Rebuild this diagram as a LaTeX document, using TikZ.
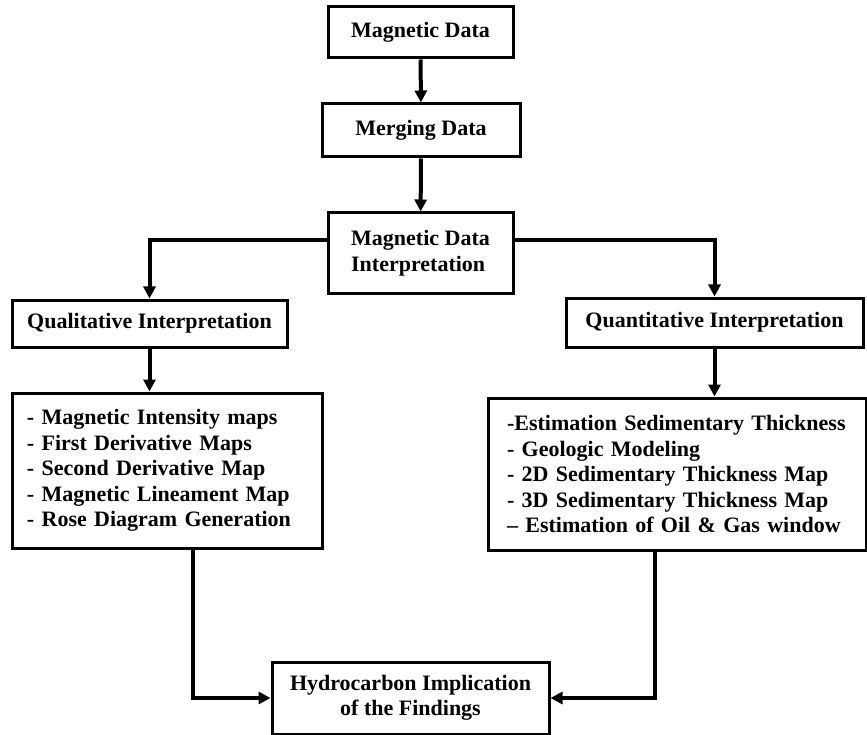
\documentclass[tikz,border=0pt]{standalone}
\usepackage{fontspec}
\setmainfont{Liberation Serif}
\usetikzlibrary{arrows.meta}

\begin{document}
\begin{tikzpicture}[x=1pt, y=-1pt,
    box/.style={draw, line width=3pt, inner sep=0pt,
        font=\fontsize{22}{25.5}\selectfont\bfseries},
    listbox/.style={box, align=left},
    link/.style={line width=4pt, -{Triangle[length=12pt,width=12pt]}}]

    \useasboundingbox (0,0) rectangle (867,735);

    % Data preparation
    \node[box, minimum width=185pt, minimum height=51pt] (magdata) at (420.5,32.5) {Magnetic Data};
    \node[box, minimum width=198pt, minimum height=53pt] (merging) at (421,130.5) {Merging Data};
    \node[box, align=left, minimum width=185pt, minimum height=80pt] (interp) at (420.5,253)
        {Magnetic Data\\Interpretation};

    % Two branches
    \node[box, minimum width=275pt, minimum height=47pt] (qual) at (149.5,323.5) {Qualitative Interpretation};
    \node[box, minimum width=297pt, minimum height=49pt] (quant) at (714.5,322.5) {Quantitative Interpretation};

    % Products of each branch
    \node[listbox, inner xsep=15pt, text width=280pt, minimum height=155pt] (quallist) at (167,470.5)
        {- Magnetic Intensity maps\\
         - First Derivative Maps\\
         - Second Derivative Map\\
         - Magnetic Lineament Map\\
         - Rose Diagram Generation};
    \node[listbox, inner xsep=19pt, text width=340pt, minimum height=152pt] (quantlist) at (677,474)
        {-Estimation Sedimentary Thickness\\
         - Geologic Modeling\\
         - 2D Sedimentary Thickness Map\\
         - 3D Sedimentary Thickness Map\\
         -- Estimation of Oil \& Gas window};

    % Result
    \node[box, align=center, minimum width=277pt, minimum height=72pt] (hydro) at (410.5,698)
        {Hydrocarbon Implication\\of the Findings};

    % Connectors
    \draw[link] (magdata) -- (merging);
    \draw[link] (merging) -- (interp);
    \draw[link] ([yshift=13pt]interp.west) -| (qual.north);
    \draw[link] ([yshift=13pt]interp.east) -| (quant.north);
    \draw[link] (qual.south) -- (qual.south |- quallist.north);
    \draw[link] (quant.south) -- (quant.south |- quantlist.north);
    \draw[link] ([xshift=26pt]quallist.south) |- (hydro.west);
    \draw[link] ([xshift=-22pt]quantlist.south) |- (hydro.east);
\end{tikzpicture}
\end{document}
